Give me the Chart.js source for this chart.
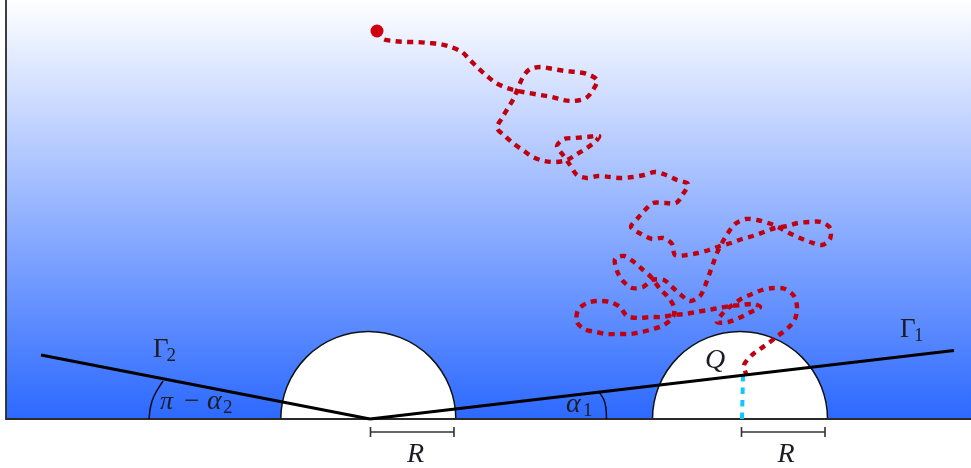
<!DOCTYPE html>
<html>
<head>
<meta charset="utf-8">
<style>html,body{margin:0;padding:0;background:#fff}canvas{display:block}</style>
<script src="https://cdn.jsdelivr.net/npm/chart.js@4/dist/chart.umd.min.js"></script>
</head>
<body>
<canvas id="c" width="971" height="468"></canvas>
<script>
const pathX = [7,13,24,36,47,59,70,81,92,100,108,117,126,137,148,159,170,182,193,204,216,223,227,217,206,195,183,171,160,153,148,144,138,132,127,135,144,154,163,174,186,197,207,217,226,229,217,205,194,187,193,200,207,217,228,240,251,263,274,285,296,307,318,313,306,295,283,275,267,261,271,282,293,302,305,317,328,339,350,361,372,383,394,405,417,428,439,451,460,460,452,440,430,419,408,398,387,376,365,358,352,347,343,339,335,330,320,311,302,294,282,273,262,253,247,245,254,264,272,281,290,298,304,303,294,283,272,260,249,237,226,214,207,208,217,228,240,250,257,269,280,292,303,315,326,338,349,361,372,383,390,379,369,358,347,353,361,371,382,392,404,415,424,427,425,418,409,400,390,382,374,376];
const pathY = [388,380,378,377,377,376,375,372,367,359,351,343,336,331,328,326,324,322,319,318,321,329,339,345,347,348,350,352,350,342,331,321,311,301,291,283,275,268,262,258,257,259,265,271,278,283,282,281,280,273,264,254,244,241,243,242,241,242,244,247,244,239,235,225,216,216,216,209,200,192,185,180,181,175,164,164,166,169,173,176,180,183,187,191,193,196,197,197,191,180,174,177,181,186,192,196,199,200,195,186,176,166,155,144,133,123,118,124,132,139,139,132,131,138,148,160,163,157,150,142,130,122,112,102,94,90,87,85,85,85,87,90,97,109,116,118,117,112,103,101,102,102,104,105,107,109,111,113,114,115,112,106,101,97,97,106,113,120,125,129,131,130,123,112,100,91,84,77,70,64,54,45];
const gamma1X = [0,584], gamma1Y = [0,68.5];
const gamma2X = [0,-329], gamma2Y = [0,64];
const cyanX = [373,372], cyanY = [44,0];
const frameX = [-364,-364,601], frameY = [419,0,0];
const domeX = [-1.7,370], domeY = [0,0], domeR = [87.5,87.5];
const arc1X = [236.5,236,234,229], arc1Y = [0,10,19,27];
const arc2X = [-221,-219.5,-216,-207], arc2Y = [0,12,23,38];
const brace1X = [0.5,0.5,0.5,84,84,84], brace2X = [371.5,371.5,371.5,455,455,455];
const braceY = [-8,-18,-13,-13,-8,-18];
const labels = [
  ['Γ',-217,62,27,''],['2',-203.5,58,19,''],
  ['Γ',530,82,27,''],['1',544,78,19,''],
  ['Q',335,51,28,'italic '],
  ['R',37,-43,28,'italic '],['R',407.5,-43,28,'italic '],
  ['α',196,7,28,'italic '],['1',213,3,19,''],
  ['π',-210,10,26,'italic '],['−',-186,10,27,''],['α',-163,10,28,'italic '],['2',-147,6,19,'']
];
const pts = (xs, ys) => xs.map((x, i) => ({x, y: ys[i]}));
const lineDs = (xs, ys, color, width, order, extra) => Object.assign({
  type: 'line', data: pts(xs, ys), borderColor: color, borderWidth: width,
  pointRadius: 0, fill: false, tension: 0, clip: false, order
}, extra || {});
const textPlugin = {
  id: 'mathText',
  afterDraw(chart) {
    const c = chart.ctx, sx = chart.scales.x, sy = chart.scales.y;
    c.save();
    c.fillStyle = '#1c1c24';
    c.textBaseline = 'alphabetic';
    c.textAlign = 'left';
    labels.forEach(([t, x, y, size, style]) => {
      c.font = style + size + 'px "Liberation Serif"';
      c.fillText(t, sx.getPixelForValue(x), sy.getPixelForValue(y));
    });
    c.restore();
  }
};
new Chart(document.getElementById('c'), {
  type: 'line',
  data: { datasets: [
    { type: 'line', data: pts([-364,601],[419,419]), borderWidth: 0, pointRadius: 0, fill: 'origin', order: 20,
      backgroundColor(ctx) {
        const a = ctx.chart.chartArea;
        if (!a) return '#9cb9ff';
        const g = ctx.chart.ctx.createLinearGradient(0, a.top, 0, a.bottom);
        g.addColorStop(0, '#ffffff');
        g.addColorStop(1, '#2c69ff');
        return g;
      } },
    { type: 'bubble', data: domeX.map((x, i) => ({x, y: domeY[i], r: domeR[i]})),
      backgroundColor: '#ffffff', borderColor: '#111111', borderWidth: 1.5, clip: 0, order: 15 },
    lineDs(frameX, frameY, '#2a2a2a', 1.8, 14),
    lineDs(cyanX, cyanY, '#0fc6ff', 4, 12, {borderDash: [6.5, 6]}),
    lineDs(pathX, pathY, '#bf0010', 4.4, 11, {borderDash: [6, 5.5], tension: 0.3}),
    { type: 'line', data: pts(pathX.slice(0,1), pathY.slice(0,1)), showLine: false, pointRadius: 6.5,
      pointBackgroundColor: '#cf0010', pointBorderWidth: 0, clip: false, order: 5 },
    lineDs(gamma1X, gamma1Y, '#000000', 3, 8),
    lineDs(gamma2X, gamma2Y, '#000000', 3, 8),
    lineDs(arc1X, arc1Y, '#0a0a14', 1.5, 9, {tension: 0.4}),
    lineDs(arc2X, arc2Y, '#0a0a14', 1.5, 9, {tension: 0.4}),
    lineDs(brace1X, braceY, '#333333', 1.6, 9),
    lineDs(brace2X, braceY, '#333333', 1.6, 9)
  ] },
  options: {
    responsive: false, animation: false, devicePixelRatio: 1,
    layout: { autoPadding: false, padding: { left: 6, right: 0, top: 0, bottom: 49 } },
    plugins: { legend: { display: false }, tooltip: { enabled: false } },
    events: [],
    scales: {
      x: { type: 'linear', min: -364, max: 601, display: false },
      y: { type: 'linear', min: 0, max: 419, display: false }
    }
  },
  plugins: [textPlugin]
});
</script>
</body>
</html>
